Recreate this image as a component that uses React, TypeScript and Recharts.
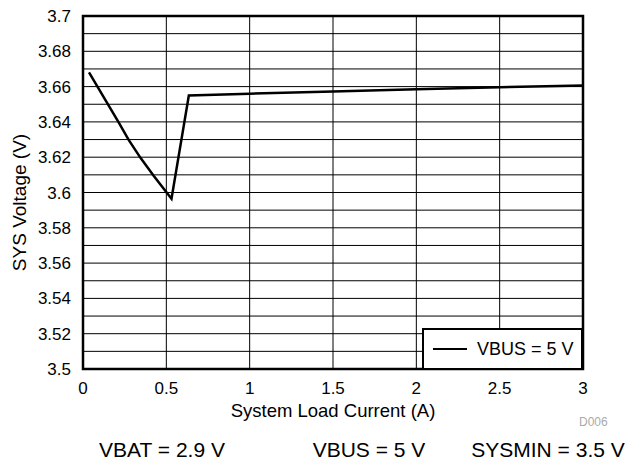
import {
  LineChart,
  Line,
  XAxis,
  YAxis,
  CartesianGrid,
  ReferenceLine,
  ReferenceArea,
  Label,
} from 'recharts'

const loadCurrent = [0.036, 0.214, 0.274, 0.346, 0.425, 0.531, 0.635, 1.0, 1.5, 2.0, 2.5, 3.0]
const sysVoltage = [3.668, 3.6397, 3.6298, 3.6195, 3.6093, 3.5965, 3.655, 3.656, 3.6572, 3.6585, 3.6597, 3.6606]
const xTicks = [0, 0.5, 1, 1.5, 2, 2.5, 3]
const yTicks = [3.5, 3.52, 3.54, 3.56, 3.58, 3.6, 3.62, 3.64, 3.66, 3.68, 3.7]
const yMinorLines = [3.51, 3.53, 3.55, 3.57, 3.59, 3.61, 3.63, 3.65, 3.67, 3.69]
const seriesName = 'VBUS = 5 V'
const footerNotes = ['VBAT = 2.9 V', 'VBUS = 5 V', 'SYSMIN = 3.5 V']

const data = loadCurrent.map((x, i) => ({ x, v: sysVoltage[i] }))

const FONT = '"Liberation Sans", Arial, Helvetica, sans-serif'

// legend sits inside the plot, bottom-right corner
const LegendBox = () => (
  <div
    style={{
      position: 'absolute',
      left: 422,
      top: 328,
      width: 157,
      height: 38,
      border: '2px solid #000',
      background: '#fff',
      display: 'flex',
      alignItems: 'center',
      fontSize: 18,
      color: '#000',
    }}
  >
    <div style={{ width: 34, height: 0, borderTop: '2.5px solid #000', marginLeft: 9, marginRight: 10 }} />
    <span>{seriesName}</span>
  </div>
)

export default function App() {
  return (
    <div style={{ position: 'absolute', left: 0, top: 0, width: 629, height: 462, fontFamily: FONT }}>
      <LineChart
        width={629}
        height={462}
        data={data}
        margin={{ top: 16, right: 46, bottom: 0, left: 0 }}
      >
        <CartesianGrid stroke="#000" strokeWidth={1} />
        {yMinorLines.map((y) => (
          <ReferenceLine key={y} y={y} stroke="#000" strokeWidth={1} />
        ))}
        <XAxis
          dataKey="x"
          type="number"
          domain={[0, 3]}
          ticks={xTicks}
          height={93}
          axisLine={false}
          tickLine={false}
          tickSize={6}
          tickMargin={7}
          tick={{ fill: '#000', fontSize: 17, fontFamily: FONT }}
        >
          <Label
            value="System Load Current (A)"
            position="insideTop"
            offset={35}
            style={{ fill: '#000', fontSize: 18.5, fontFamily: FONT }}
          />
        </XAxis>
        <YAxis
          type="number"
          domain={[3.5, 3.7]}
          ticks={yTicks}
          width={83}
          axisLine={false}
          tickLine={false}
          tickSize={6}
          tickMargin={6}
          tickFormatter={(v) => String(parseFloat(Number(v).toFixed(2)))}
          tick={{ fill: '#000', fontSize: 17, fontFamily: FONT }}
        >
          <Label
            content={({ viewBox }: any) => {
              const cy = viewBox.y + viewBox.height / 2 + 10
              return (
                <text
                  x={19}
                  y={cy}
                  transform={`rotate(-90, 19, ${cy})`}
                  textAnchor="middle"
                  dominantBaseline="central"
                  style={{ fill: '#000', fontSize: 19, fontFamily: FONT }}
                >
                  SYS Voltage (V)
                </text>
              )
            }}
          />
        </YAxis>
        <ReferenceArea
          x1={0}
          x2={3}
          y1={3.5}
          y2={3.7}
          fill="none"
          stroke="#000"
          strokeWidth={2.5}
          ifOverflow="visible"
        />
        <Line
          type="linear"
          dataKey="v"
          name={seriesName}
          stroke="#000"
          strokeWidth={2.5}
          dot={false}
          isAnimationActive={false}
        />
      </LineChart>
      <LegendBox />
      <div style={{ position: 'absolute', left: 579, top: 415, fontSize: 12, color: '#aaa' }}>D006</div>
      {footerNotes.map((t, i) => (
        <div
          key={t}
          style={{
            position: 'absolute',
            top: 438,
            left: [162, 369, 548][i],
            transform: 'translateX(-50%)',
            fontSize: 21,
            color: '#000',
            whiteSpace: 'nowrap',
          }}
        >
          {t}
        </div>
      ))}
    </div>
  )
}
